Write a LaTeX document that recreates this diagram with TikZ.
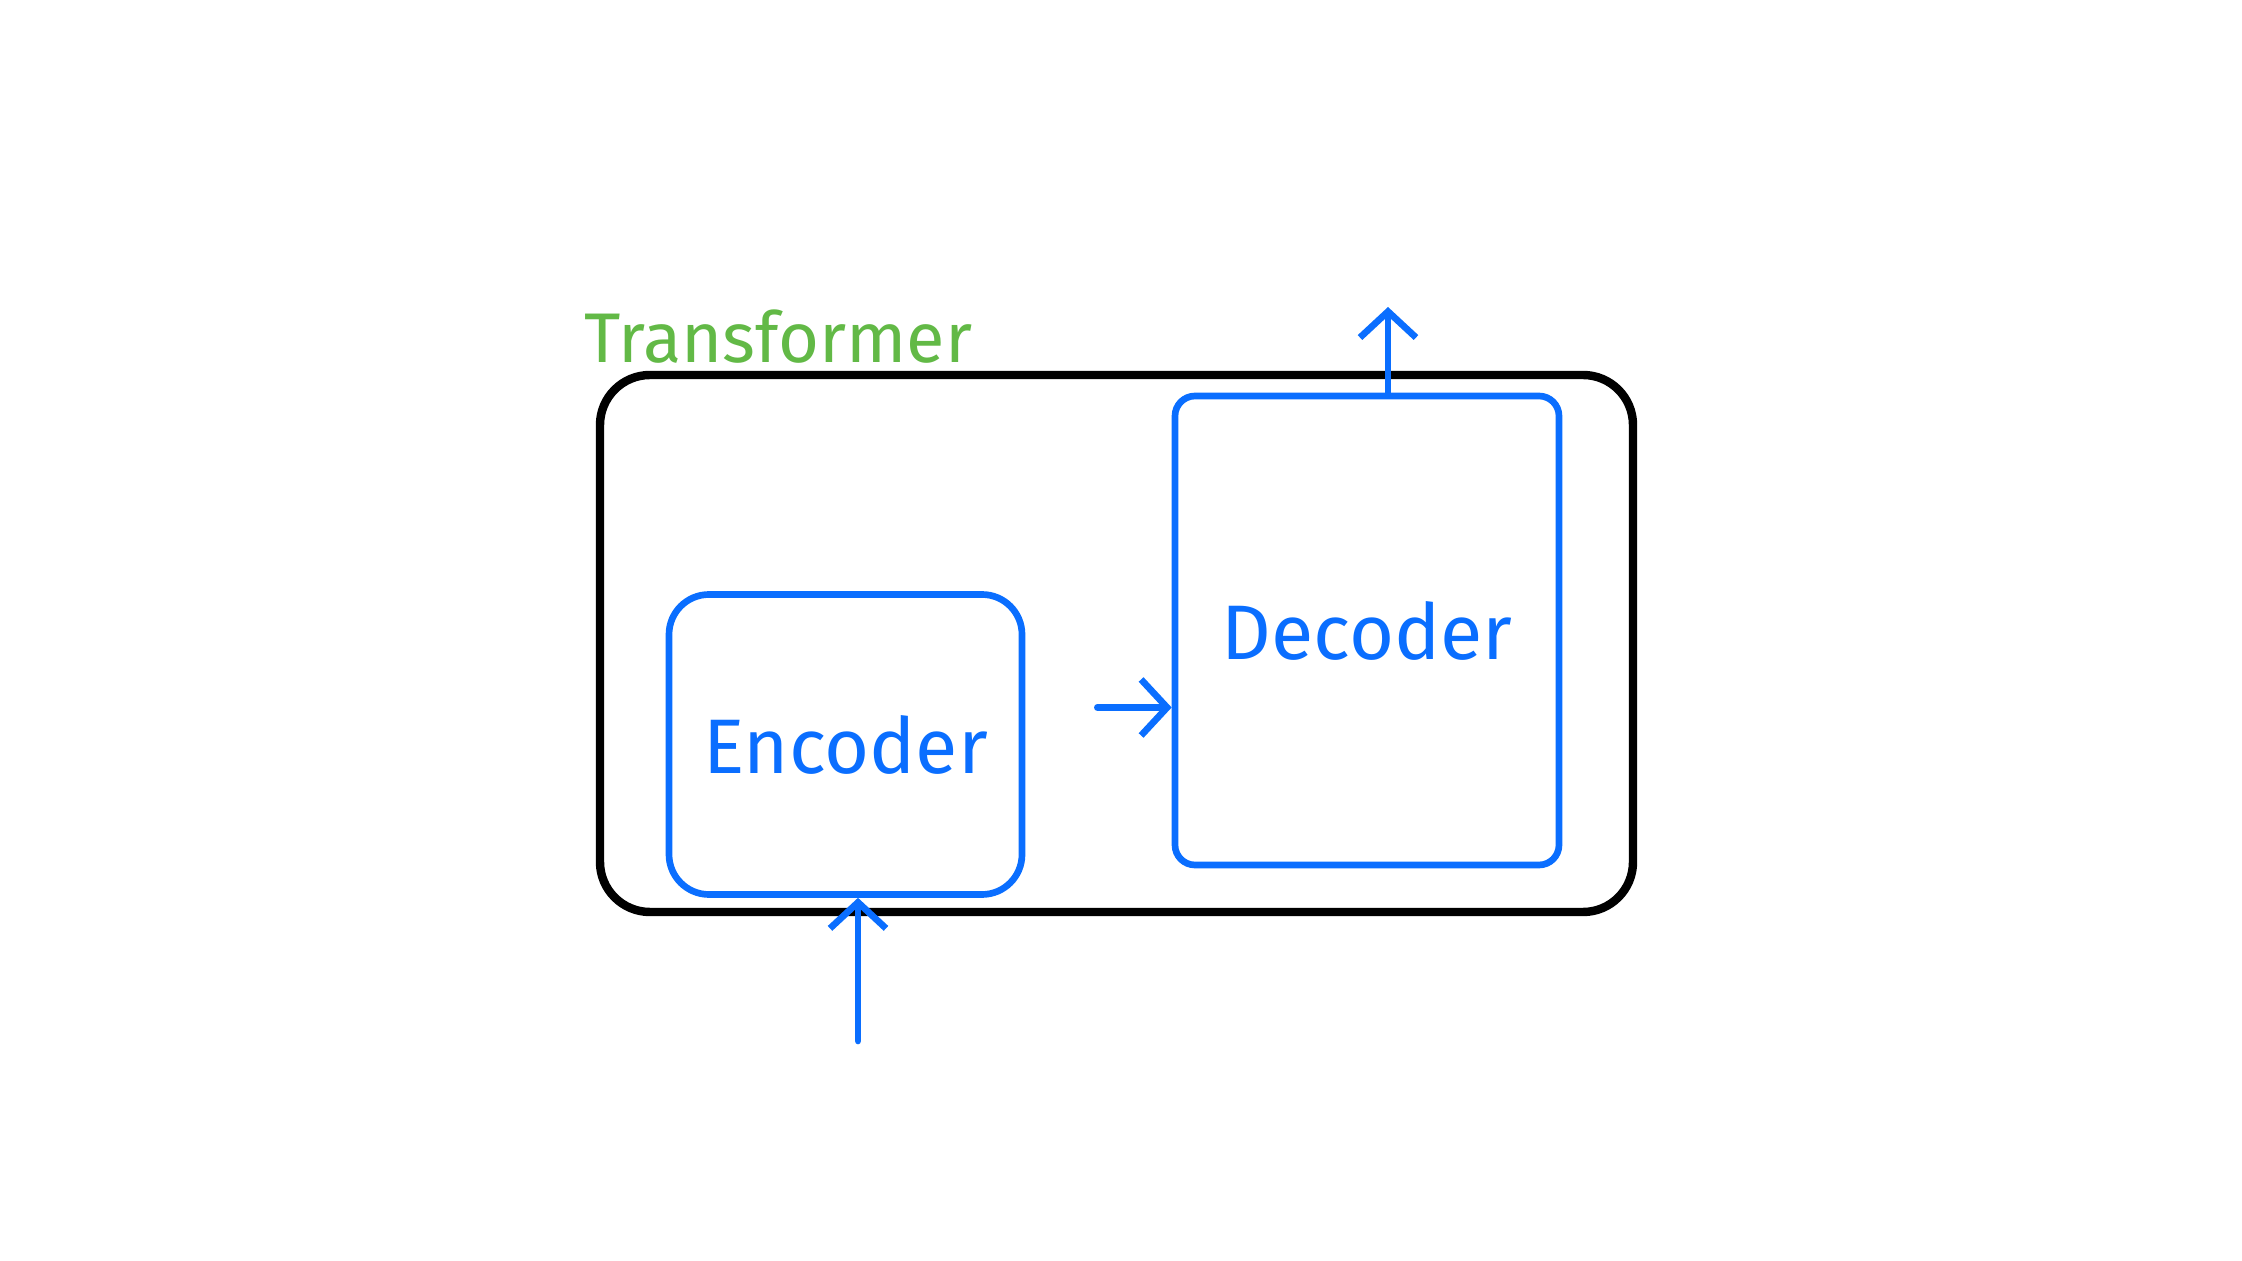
\documentclass[tikz,border=0pt]{standalone}
\usepackage{fontspec}
\setmainfont{Fira Sans}
\usetikzlibrary{positioning, arrows.meta}
\definecolor{penblue}{RGB}{10,110,255}
\definecolor{pengreen}{RGB}{98,185,70}

\begin{document}
\begin{tikzpicture}[
	block/.style={draw=penblue, line width=1.9pt, rounded corners=2mm, inner sep=0pt, text=penblue, font=\fontsize{22}{26}\selectfont},
	flow/.style={draw=penblue, line width=1.9pt, line cap=round, -{Straight Barb[length=2.6mm, width=5.6mm]}}]
		
		\useasboundingbox (0,0) rectangle (22.42,12.61);
		
		%Outer box
		\node[draw=black, line width=2.4pt, rounded corners=5mm, minimum width=10.33cm, minimum height=5.37cm] (trf) at (11.165,6.175){};
		\node[text=pengreen, font=\fontsize{20}{24}\selectfont, anchor=base west] (title) at (5.72,8.98){Transformer};
		
		%Blocks
		\node[block, rounded corners=4mm, minimum width=3.53cm, minimum height=3.0cm] (enc) at (8.455,5.165){Encoder};
		\node[block, minimum width=3.84cm, minimum height=4.69cm] (dec) at (13.67,6.305){Decoder};
		
		%Flow
		\coordinate (src) at (8.58,2.20);
		\coordinate (dst) at (13.88,9.54);
		\draw[flow] (src) -- (src |- enc.south);
		\draw[flow, shorten <=7.2mm] ([yshift=3.7mm]enc.east) -- ([yshift=3.7mm]enc.east -| dec.west);
		\draw[flow] (dec.north -| dst) -- (dst);
		
		\end{tikzpicture}
\end{document}
